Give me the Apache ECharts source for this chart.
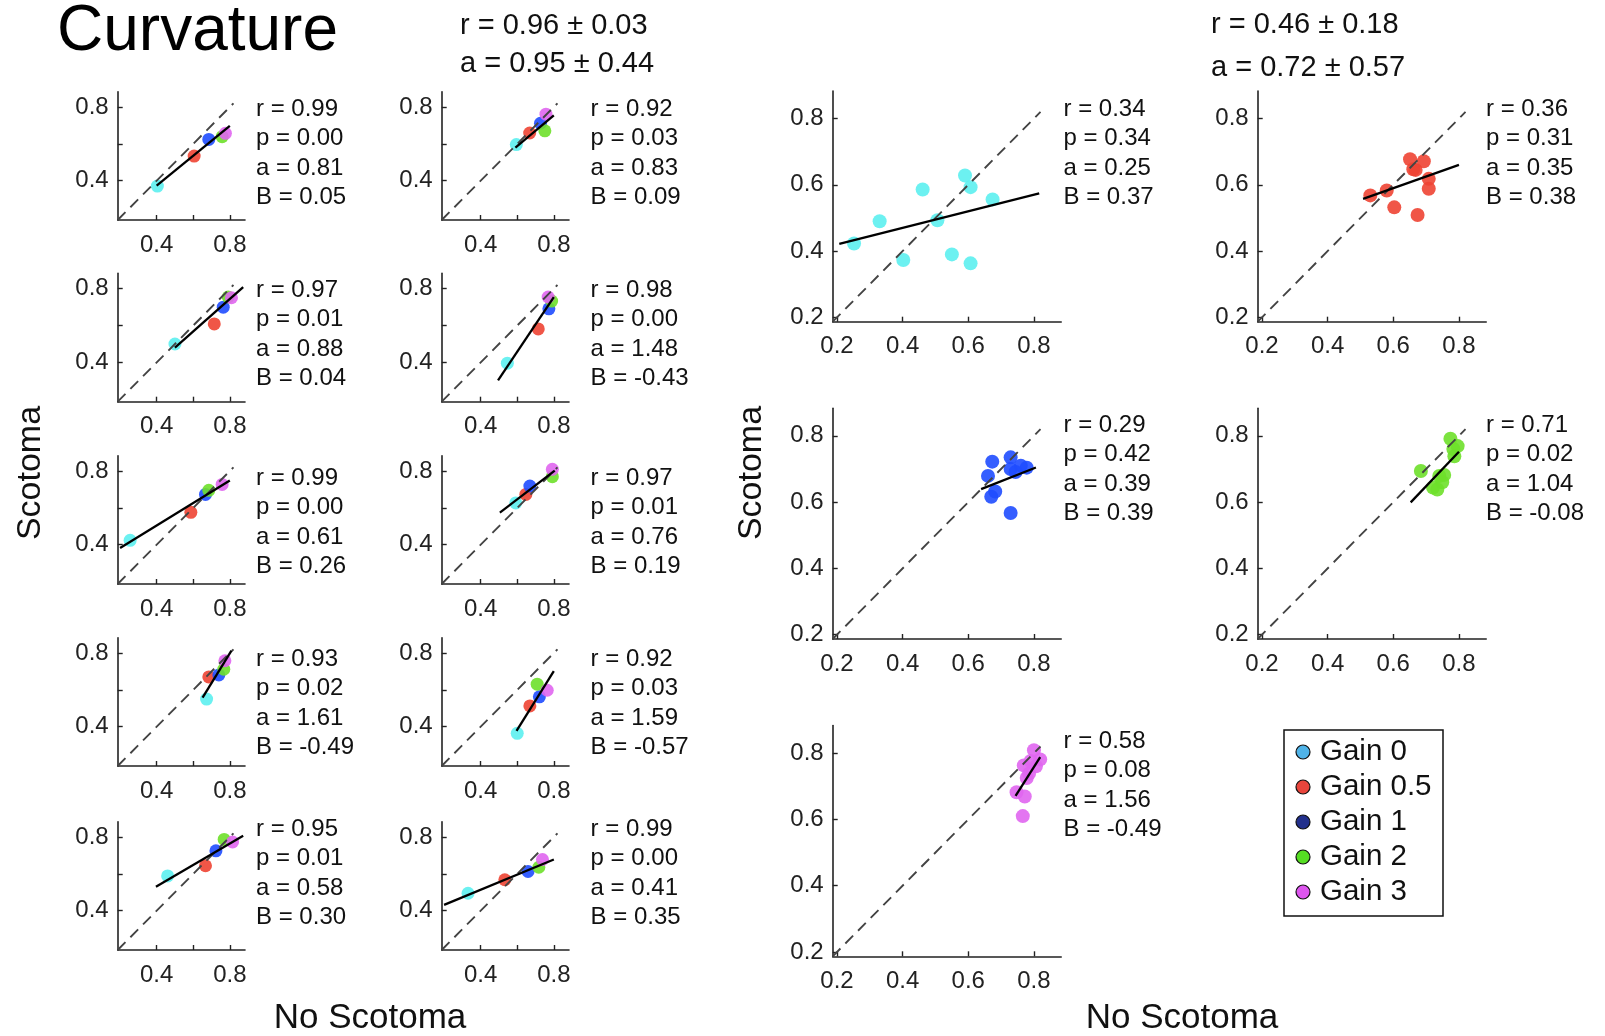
<!DOCTYPE html>
<html>
<head>
<meta charset="utf-8">
<style>
  html, body { margin: 0; padding: 0; background: #fff; }
  #main { width: 1605px; height: 1036px; }
</style>
</head>
<body>
<div id="main"></div>
<script src="https://cdn.jsdelivr.net/npm/echarts@6/dist/echarts.min.js"></script>
<script>
// ---- data ----
var gainNames = ['Gain 0', 'Gain 0.5', 'Gain 1', 'Gain 2', 'Gain 3'];
var plotColors = ['#5cf0f0', '#ee4433', '#1f4cff', '#6ee02a', '#e066f0'];
var legendColors = ['#4fb3e8', '#e8453c', '#22308c', '#55dd22', '#dd55ee'];

var smallLabels = [0.4, 0.8];
var smallTicks = [0.4, 0.6, 0.8];
var largeLabels = [0.2, 0.4, 0.6, 0.8];

// left: 10 participants (row by row), one point per gain
var leftX = [
  [0.404, 0.605, 0.685, 0.758, 0.776],
  [0.595, 0.668, 0.727, 0.751, 0.757],
  [0.500, 0.715, 0.764, 0.791, 0.809],
  [0.546, 0.715, 0.773, 0.788, 0.769],
  [0.255, 0.587, 0.667, 0.685, 0.758],
  [0.592, 0.647, 0.669, 0.792, 0.792],
  [0.673, 0.685, 0.740, 0.767, 0.773],
  [0.600, 0.669, 0.721, 0.709, 0.764],
  [0.460, 0.667, 0.724, 0.769, 0.815],
  [0.331, 0.532, 0.659, 0.718, 0.738]
];
var leftY = [
  [0.371, 0.534, 0.624, 0.639, 0.657],
  [0.596, 0.659, 0.712, 0.671, 0.761],
  [0.500, 0.609, 0.700, 0.755, 0.751],
  [0.396, 0.582, 0.691, 0.733, 0.755],
  [0.424, 0.576, 0.673, 0.695, 0.727],
  [0.627, 0.673, 0.718, 0.769, 0.809],
  [0.550, 0.670, 0.681, 0.712, 0.758],
  [0.364, 0.513, 0.562, 0.631, 0.598],
  [0.589, 0.644, 0.725, 0.787, 0.773],
  [0.495, 0.568, 0.613, 0.636, 0.678]
];
var leftR = ['0.99', '0.92', '0.97', '0.98', '0.99', '0.97', '0.93', '0.92', '0.95', '0.99'];
var leftP = ['0.00', '0.03', '0.01', '0.00', '0.00', '0.01', '0.02', '0.03', '0.01', '0.00'];
var leftA = [0.81, 0.83, 0.88, 1.48, 0.61, 0.76, 1.61, 1.59, 0.58, 0.41];
var leftB = [0.05, 0.09, 0.04, -0.43, 0.26, 0.19, -0.49, -0.57, 0.30, 0.35];
var leftFit = [[0.40, 0.80], [0.59, 0.80], [0.50, 0.873], [0.495, 0.80], [0.20, 0.80],
               [0.505, 0.805], [0.651, 0.809], [0.596, 0.80], [0.396, 0.873], [0.20, 0.80]];

// right: one panel per gain, one point per participant
var rightX = [
  [0.252, 0.330, 0.402, 0.461, 0.506, 0.550, 0.590, 0.607, 0.607, 0.674],
  [0.530, 0.580, 0.603, 0.651, 0.661, 0.668, 0.693, 0.674, 0.708, 0.708],
  [0.673, 0.729, 0.660, 0.682, 0.670, 0.729, 0.760, 0.778, 0.729, 0.744],
  [0.774, 0.796, 0.786, 0.684, 0.755, 0.749, 0.721, 0.734, 0.783, 0.740],
  [0.800, 0.819, 0.806, 0.769, 0.785, 0.747, 0.772, 0.766, 0.778, 0.790]
];
var rightY = [
  [0.423, 0.490, 0.373, 0.586, 0.493, 0.390, 0.628, 0.593, 0.363, 0.556],
  [0.568, 0.583, 0.532, 0.677, 0.647, 0.645, 0.671, 0.509, 0.618, 0.588],
  [0.722, 0.735, 0.679, 0.632, 0.616, 0.700, 0.710, 0.704, 0.567, 0.691],
  [0.791, 0.769, 0.738, 0.694, 0.682, 0.660, 0.644, 0.638, 0.760, 0.679],
  [0.809, 0.781, 0.760, 0.763, 0.738, 0.682, 0.669, 0.610, 0.725, 0.776]
];
var rightR = ['0.34', '0.36', '0.29', '0.71', '0.58'];
var rightP = ['0.34', '0.31', '0.42', '0.02', '0.08'];
var rightA = [0.25, 0.35, 0.39, 1.04, 1.56];
var rightB = [0.37, 0.38, 0.39, -0.08, -0.49];
var rightFit = [[0.207, 0.816], [0.508, 0.80], [0.639, 0.806], [0.653, 0.80], [0.744, 0.819]];

var leftSummary = ['r = 0.96 ± 0.03', 'a = 0.95 ± 0.44'];
var rightSummary = ['r = 0.46 ± 0.18', 'a = 0.72 ± 0.57'];

// ---- layout ----
var FONT = '"Liberation Sans", Arial, Helvetica, sans-serif';
var AX_MIN = 0.187, AX_MAX = 0.883, DIAG_END = 0.82;
var smallCols = [117.7, 441.7], smallTops = [91.7, 273.4, 455.7, 637.7, 821.7];
var smallW = 127.3, smallH = 128.3;
var smallStatX = [256, 590.6], smallStatY = [109, 290, 478, 659, 829];
var largeCols = [832.7, 1257.7], largeTops = [91, 408.3, 725.6];
var largeW = 228.5, largeH = 230.7;
var largeStatX = [1063.5, 1486], largeStatY = [109, 425, 741];

var grids = [], xAxes = [], yAxes = [], series = [], graphics = [];

function makeAxis(idx, labels, ticks, isX) {
  return {
    type: 'value', gridIndex: idx, min: AX_MIN, max: AX_MAX,
    axisLine: { show: true, onZero: false, lineStyle: { color: '#222', width: 1.6 } },
    axisTick: { show: true, inside: true, length: 5, customValues: ticks,
                lineStyle: { color: '#222', width: 1.4 } },
    axisLabel: { customValues: labels, fontSize: 24, fontFamily: FONT, color: '#222',
                 margin: isX ? 13 : 9, formatter: function (v) { return v.toFixed(1); } },
    splitLine: { show: false }
  };
}

function addPanel(idx, left, top, w, h, xs, ys, colors, a, b, fit, labels, ticks, size) {
  grids.push({ left: left, top: top, width: w, height: h });
  xAxes.push(makeAxis(idx, labels, ticks, true));
  yAxes.push(makeAxis(idx, labels, ticks, false));
  series.push({
    type: 'scatter', xAxisIndex: idx, yAxisIndex: idx, symbolSize: size, z: 2,
    data: xs.map(function (v, k) {
      return { value: [v, ys[k]], itemStyle: { color: colors[k], opacity: 0.9 } };
    })
  });
  series.push({
    type: 'line', xAxisIndex: idx, yAxisIndex: idx, symbol: 'none', z: 3,
    lineStyle: { color: '#444', width: 1.9, type: [11, 7] },
    data: [[AX_MIN, AX_MIN], [DIAG_END, DIAG_END]]
  });
  series.push({
    type: 'line', xAxisIndex: idx, yAxisIndex: idx, symbol: 'none', z: 4,
    lineStyle: { color: '#000', width: 2.3 },
    data: [[fit[0], a * fit[0] + b], [fit[1], a * fit[1] + b]]
  });
}

function statText(x, y, lines, step) {
  lines.forEach(function (t, k) {
    graphics.push({ type: 'text', x: x, y: y + k * step,
      style: { text: t, fontSize: 24, fontFamily: FONT, fill: '#111', verticalAlign: 'middle' } });
  });
}

function statLines(r, p, a, b) {
  return ['r = ' + r, 'p = ' + p, 'a = ' + a.toFixed(2), 'B = ' + b.toFixed(2)];
}

var idx = 0;
for (var i = 0; i < leftX.length; i++) {
  var row = Math.floor(i / 2), col = i % 2;
  var cols = leftX[i].map(function (_, k) { return plotColors[k]; });
  addPanel(idx++, smallCols[col], smallTops[row], smallW, smallH, leftX[i], leftY[i], cols,
           leftA[i], leftB[i], leftFit[i], smallLabels, smallTicks, 13);
  statText(smallStatX[col], smallStatY[row], statLines(leftR[i], leftP[i], leftA[i], leftB[i]), 29.5);
}
for (var j = 0; j < rightX.length; j++) {
  var rrow = Math.floor(j / 2), rcol = j % 2;
  var rc = rightX[j].map(function () { return plotColors[j]; });
  addPanel(idx++, largeCols[rcol], largeTops[rrow], largeW, largeH, rightX[j], rightY[j], rc,
           rightA[j], rightB[j], rightFit[j], largeLabels, largeLabels, 14);
  statText(largeStatX[rcol], largeStatY[rrow], statLines(rightR[j], rightP[j], rightA[j], rightB[j]), 29.5);
}

// titles and axis names
graphics.push({ type: 'text', x: 57, y: 32,
  style: { text: 'Curvature', fontSize: 64, fontFamily: FONT, fill: '#000', verticalAlign: 'middle' } });
graphics.push({ type: 'text', x: 460, y: 26,
  style: { text: leftSummary[0], fontSize: 29, fontFamily: FONT, fill: '#111', verticalAlign: 'middle' } });
graphics.push({ type: 'text', x: 460, y: 64,
  style: { text: leftSummary[1], fontSize: 29, fontFamily: FONT, fill: '#111', verticalAlign: 'middle' } });
graphics.push({ type: 'text', x: 1211, y: 25,
  style: { text: rightSummary[0], fontSize: 29, fontFamily: FONT, fill: '#111', verticalAlign: 'middle' } });
graphics.push({ type: 'text', x: 1211, y: 68,
  style: { text: rightSummary[1], fontSize: 29, fontFamily: FONT, fill: '#111', verticalAlign: 'middle' } });

[[31, 473], [752, 473]].forEach(function (p) {
  graphics.push({ type: 'text', x: p[0], y: p[1], rotation: Math.PI / 2,
    style: { text: 'Scotoma', fontSize: 34, fontFamily: FONT, fill: '#111',
             align: 'center', verticalAlign: 'middle' } });
});
[[370, 1018], [1182, 1018]].forEach(function (p) {
  graphics.push({ type: 'text', x: p[0], y: p[1],
    style: { text: 'No Scotoma', fontSize: 35, fontFamily: FONT, fill: '#111',
             align: 'center', verticalAlign: 'middle' } });
});

// legend box
graphics.push({ type: 'rect', shape: { x: 1284, y: 730, width: 159, height: 186 },
  style: { fill: '#fff', stroke: '#111', lineWidth: 1.5 } });
gainNames.forEach(function (name, k) {
  var cy = 752 + k * 35;
  graphics.push({ type: 'circle', shape: { cx: 1303, cy: cy, r: 7 },
    style: { fill: legendColors[k], stroke: '#111', lineWidth: 1.2 } });
  graphics.push({ type: 'text', x: 1320, y: cy,
    style: { text: name, fontSize: 29.5, fontFamily: FONT, fill: '#111', verticalAlign: 'middle' } });
});

var myChart = echarts.init(document.getElementById('main'));
myChart.setOption({
  animation: false,
  backgroundColor: '#fff',
  grid: grids,
  xAxis: xAxes,
  yAxis: yAxes,
  series: series,
  graphic: graphics
});
</script>
</body>
</html>
